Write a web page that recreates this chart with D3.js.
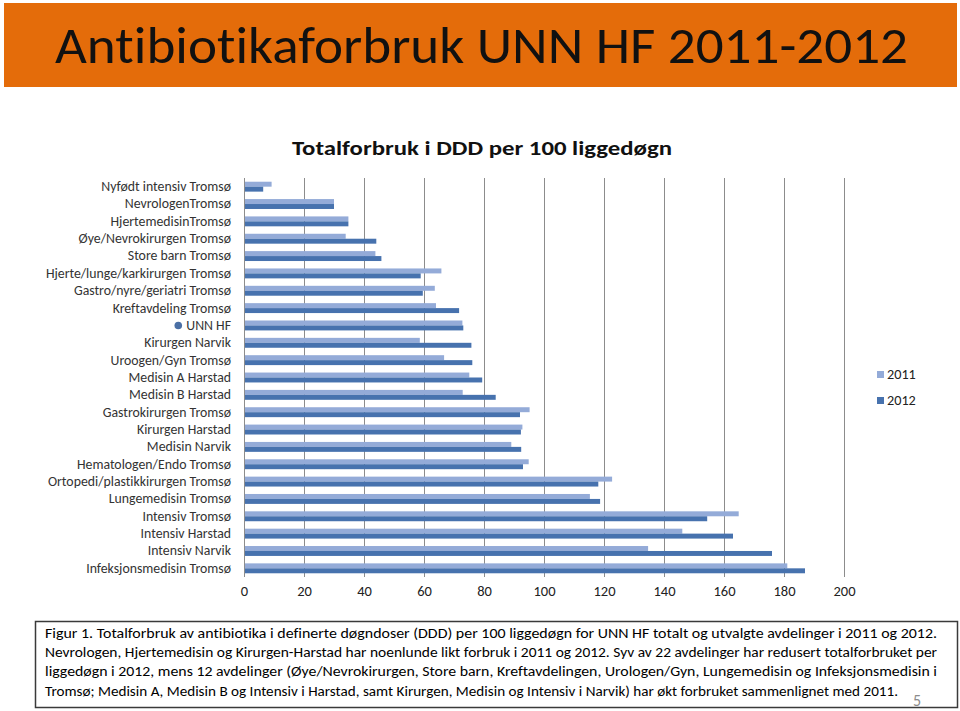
<!DOCTYPE html>
<html>
<head>
<meta charset="utf-8">
<script src="https://cdn.jsdelivr.net/npm/d3@7"></script>
<style>
  html, body { margin: 0; padding: 0; background: #fff; }
  svg { display: block; }
  text { font-family: Carlito, Lato, "Open Sans", sans-serif; font-variant-ligatures: none; font-feature-settings: "liga" 0, "clig" 0; }
</style>
</head>
<body>
<svg id="chart" width="960" height="711"></svg>
<script>
const categories = [
  "Nyfødt intensiv Tromsø",
  "NevrologenTromsø",
  "HjertemedisinTromsø",
  "Øye/Nevrokirurgen Tromsø",
  "Store barn Tromsø",
  "Hjerte/lunge/karkirurgen Tromsø",
  "Gastro/nyre/geriatri Tromsø",
  "Kreftavdeling Tromsø",
  "UNN HF",
  "Kirurgen Narvik",
  "Uroogen/Gyn Tromsø",
  "Medisin A Harstad",
  "Medisin B Harstad",
  "Gastrokirurgen Tromsø",
  "Kirurgen Harstad",
  "Medisin Narvik",
  "Hematologen/Endo Tromsø",
  "Ortopedi/plastikkirurgen Tromsø",
  "Lungemedisin Tromsø",
  "Intensiv Tromsø",
  "Intensiv Harstad",
  "Intensiv Narvik",
  "Infeksjonsmedisin Tromsø"
];
const values2011 = [9.2, 30.0, 34.8, 33.9, 43.8, 65.8, 63.6, 64.0, 72.8, 58.6, 66.7, 75.1, 72.9, 95.2, 92.8, 89.1, 94.9, 122.7, 115.3, 164.9, 146.1, 134.7, 181.1];
const values2012 = [6.4, 30.0, 34.8, 44.1, 45.8, 58.9, 59.6, 71.7, 73.1, 75.8, 76.1, 79.4, 83.9, 92.0, 92.3, 92.4, 93.0, 118.1, 118.7, 154.4, 163.0, 176.0, 187.0];
const seriesNames = ["2011", "2012"];
const xTicks = [0, 20, 40, 60, 80, 100, 120, 140, 160, 180, 200];
const highlighted = "UNN HF";

const titleText = "Antibiotikaforbruk UNN HF 2011-2012";
const subtitleText = "Totalforbruk i DDD per 100 liggedøgn";
const captionLines = [
  "Figur 1. Totalforbruk av antibiotika i definerte døgndoser (DDD) per 100 liggedøgn for UNN HF totalt og utvalgte avdelinger i 2011 og 2012.",
  "Nevrologen, Hjertemedisin og Kirurgen-Harstad har noenlunde likt forbruk i 2011 og 2012. Syv av 22 avdelinger har redusert totalforbruket per",
  "liggedøgn i 2012, mens 12 avdelinger (Øye/Nevrokirurgen, Store barn, Kreftavdelingen, Urologen/Gyn, Lungemedisin og Infeksjonsmedisin i",
  "Tromsø; Medisin A, Medisin B og Intensiv i Harstad, samt Kirurgen, Medisin og Intensiv i Narvik) har økt forbruket sammenlignet med 2011."
];
const pageNumber = "5";

const colors = ["#94abd8", "#4772ae"];
const series = [values2011, values2012];

const svg = d3.select("#chart");

// Banner
svg.append("rect").attr("x", 4).attr("y", 3).attr("width", 953).attr("height", 84).attr("fill", "#e46c0a");
svg.append("text").attr("x", 55).attr("y", 63)
  .attr("font-size", 51).attr("fill", "#111")
  .attr("textLength", 853).attr("lengthAdjust", "spacingAndGlyphs")
  .text(titleText);

// Subtitle
svg.append("text").attr("x", 292).attr("y", 155)
  .attr("font-size", 20).attr("font-weight", "bold").attr("fill", "#111")
  .attr("textLength", 380).attr("lengthAdjust", "spacingAndGlyphs")
  .text(subtitleText);

// Scales
const x = d3.scaleLinear().domain([0, 200]).range([244, 844]);
const pi = 1.5 / 3.5;
const y = d3.scaleBand().domain(categories).range([178, 577]).paddingInner(pi).paddingOuter(pi / 2);
const ySub = d3.scaleBand().domain(seriesNames).range([0, y.bandwidth()]);

// Gridlines
const g = svg.append("g");
g.selectAll("line.grid").data(xTicks).join("line")
  .attr("class", "grid")
  .attr("x1", d => x(d) + 0.5).attr("x2", d => x(d) + 0.5)
  .attr("y1", 178).attr("y2", 577)
  .attr("stroke", "#8c8c8c").attr("stroke-width", 1);

// Bars
seriesNames.forEach((s, si) => {
  g.selectAll("rect.s" + si).data(categories).join("rect")
    .attr("class", "s" + si)
    .attr("x", x(0) + 1)
    .attr("y", d => y(d) + ySub(s))
    .attr("width", (d, i) => x(series[si][i]) - x(0) - 1)
    .attr("height", ySub.bandwidth())
    .attr("fill", colors[si]);
});

// X axis labels
const xAxis = d3.axisBottom(x).tickValues(xTicks).tickSize(0).tickPadding(0).tickFormat(d3.format("d"));
const xa = svg.append("g").attr("transform", "translate(0,586)").call(xAxis);
xa.select(".domain").remove();
xa.selectAll("text").attr("font-size", 14.5).attr("fill", "#222")
  .attr("font-family", "Carlito, Lato, 'Open Sans', sans-serif");

// Y axis labels
const yAxis = d3.axisLeft(y).tickSize(0).tickPadding(0);
const ya = svg.append("g").attr("transform", "translate(231,0)").call(yAxis);
ya.select(".domain").remove();
ya.selectAll("text").attr("font-size", 13.8).attr("fill", "#333")
  .attr("font-family", "Carlito, Lato, 'Open Sans', sans-serif");
// marker for highlighted category
ya.selectAll(".tick").filter(d => d === highlighted).each(function() {
  const t = d3.select(this).select("text");
  const w = t.node().getComputedTextLength();
  d3.select(this).append("circle").attr("cx", -w - 8).attr("cy", 0).attr("r", 3.8).attr("fill", "#4a6fa5");
});

// Legend
const legend = svg.append("g");
seriesNames.forEach((s, i) => {
  legend.append("rect").attr("x", 877).attr("y", 371 + i * 26).attr("width", 7).attr("height", 7).attr("fill", colors[i]);
  legend.append("text").attr("x", 887).attr("y", 379 + i * 26).attr("font-size", 14.2).attr("fill", "#222").text(s);
});

// Caption box
svg.append("rect").attr("x", 35.5).attr("y", 621.5).attr("width", 922).attr("height", 86)
  .attr("fill", "none").attr("stroke", "#3a3a3a").attr("stroke-width", 1.5);
captionLines.forEach((line, i) => {
  svg.append("text").attr("x", 45).attr("y", 638 + i * 19.2)
    .attr("font-size", 14.6).attr("fill", "#000")
    .attr("textLength", i < 3 ? 892 : 853).attr("lengthAdjust", "spacingAndGlyphs")
    .text(line);
});
svg.append("text").attr("x", 913).attr("y", 706).attr("font-size", 16).attr("fill", "#8c8c8c").text(pageNumber);
</script>
</body>
</html>
